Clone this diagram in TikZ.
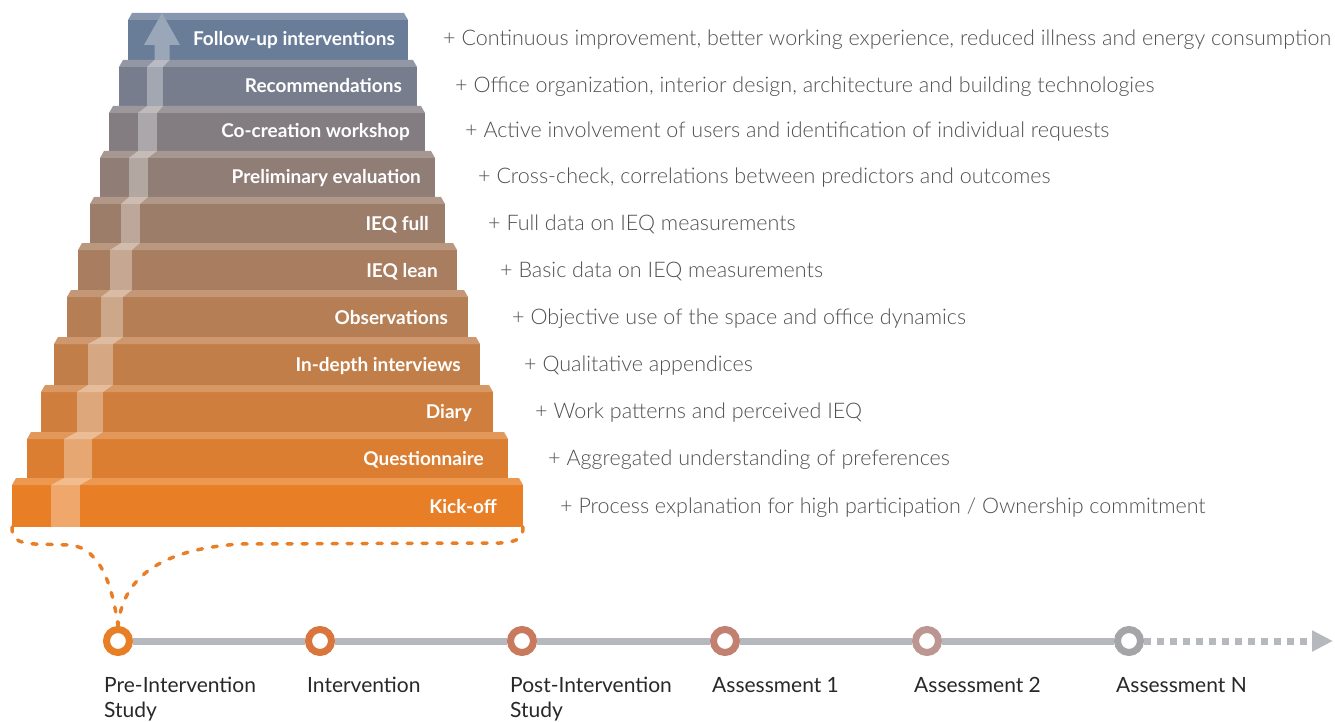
\documentclass[tikz,border=0pt]{standalone}
\usepackage{fontspec}
\setmainfont{Lato}
\IfFontExistsTF{Lato Light}{\newfontfamily\descfont{Lato Light}}{\newfontfamily\descfont{Lato}}
\usetikzlibrary{arrows.meta}
\definecolor{kick}{RGB}{232,126,38}
\definecolor{topc}{RGB}{106,125,152}
\definecolor{descgray}{RGB}{80,80,80}
\definecolor{tlgray}{RGB}{181,184,189}
\definecolor{labdark}{RGB}{40,40,40}
\definecolor{ringA}{RGB}{232,126,38}
\definecolor{ringB}{RGB}{217,118,62}
\definecolor{ringC}{RGB}{201,122,93}
\definecolor{ringD}{RGB}{193,128,112}
\definecolor{ringE}{RGB}{188,150,145}
\definecolor{ringF}{RGB}{165,165,167}
% #1 top, #2 bottom, #3 left, #4 right, #5/#6 stripe, #7/#8 stripe of step above, #9 percent orange
\newcommand\drawstep[9]{%
  \colorlet{cc}{kick!#9!topc}%
  \fill[cc] (#3,#1+7) rectangle (#4,#2);
  \fill[cc!80!white] (#3,#1+7) -- (#3+4,#1) -- (#4-4,#1) -- (#4,#1+7) -- cycle;
  \fill[cc!68!white] (#5,#1+7) rectangle (#6,#2);
  \fill[cc!52!white] (#5,#1+7) -- (#7,#1) -- (#8,#1) -- (#6,#1+7) -- cycle;
}
\begin{document}
\begin{tikzpicture}[x=1pt,y=-1pt,
  steplabel/.style={anchor=base east, inner sep=0pt, text=white, font=\bfseries\fontsize{19}{22}\selectfont},
  desc/.style={anchor=base west, inner sep=0pt, text=descgray, font=\descfont\fontsize{21.5}{24}\selectfont},
  ring/.style={circle, draw=#1, line width=7pt, fill=white, minimum size=23pt, inner sep=0pt},
  tlabel/.style={anchor=north west, inner sep=0pt, align=left, text=labdark, font=\fontsize{21}{25}\selectfont},
  bracket/.style={draw=kick, line width=3.5pt, line cap=round, dash pattern=on 5pt off 10pt},
  timeline/.style={draw=tlgray, line width=7pt}]
\useasboundingbox (0,0) rectangle (1335,722);

% ---- staircase ----
% top step (Follow-up interventions)
\colorlet{cc}{topc}
\fill[cc] (128,20) rectangle (408,60);
\fill[cc!80!white] (128,20) -- (132,13) -- (404,13) -- (408,20) -- cycle;
\fill[topc!68!white] (154.5,60) -- (154.5,45) -- (144,45) -- (162,13) -- (180,45) -- (169.5,45) -- (169.5,60) -- cycle;
\drawstep{60}{106}{119}{417}{147}{163}{154.5}{169.5}{10}
\drawstep{106}{151}{109}{425}{138}{157}{147}{163}{20}
\drawstep{151}{197}{100}{435}{129}{148}{138}{157}{30}
\drawstep{197}{243}{90}{445}{121}{140}{129}{148}{40}
\drawstep{243}{290}{78}{457}{110}{132}{121}{140}{50}
\drawstep{290}{337}{67}{468}{101}{123}{110}{132}{60}
\drawstep{337}{385}{54}{480}{88}{113}{101}{123}{70}
\drawstep{385}{432}{41}{493}{77}{103}{88}{113}{80}
\drawstep{432}{478}{27}{508}{64}{92}{77}{103}{90}
\drawstep{478}{527}{12}{523}{51}{80}{64}{92}{100}

% ---- step labels ----
\node[steplabel] (s0) at (395,39+7) {Follow-up interventions};
\node[steplabel] (s1) at (402,86+7) {Recommendations};
\node[steplabel] (s2) at (410,131+7) {Co-creation workshop};
\node[steplabel] (s3) at (421,177+7) {Preliminary evaluation};
\node[steplabel] (s4) at (429,223+7) {IEQ full};
\node[steplabel] (s5) at (438,270+7) {IEQ lean};
\node[steplabel] (s6) at (448,317+7) {Observations};
\node[steplabel] (s7) at (461,364+7) {In-depth interviews};
\node[steplabel] (s8) at (472,411+7) {Diary};
\node[steplabel] (s9) at (484,458+7) {Questionnaire};
\node[steplabel] (s10) at (497,506+7) {Kick-off};

% ---- descriptions ----
\node[desc] (d0) at (443,39+7) {+ Continuous improvement, better working experience, reduced illness and energy consumption};
\node[desc] (d1) at (455,86+7) {+ Office organization, interior design, architecture and building technologies};
\node[desc] (d2) at (465,131+7) {+ Active involvement of users and identification of individual requests};
\node[desc] (d3) at (478,177+7) {+ Cross-check, correlations between predictors and outcomes};
\node[desc] (d4) at (488,223+7) {+ Full data on IEQ measurements};
\node[desc] (d5) at (500,270+7) {+ Basic data on IEQ measurements};
\node[desc] (d6) at (512,317+7) {+ Objective use of the space and office dynamics};
\node[desc] (d7) at (524,364+7) {+ Qualitative appendices};
\node[desc] (d8) at (535,411+7) {+ Work patterns and perceived IEQ};
\node[desc] (d9) at (548,458+7) {+ Aggregated understanding of preferences};
\node[desc] (d10) at (560,506+7) {+ Process explanation for high participation / Ownership commitment};

% ---- timeline ----
\node[ring=ringA] (t1) at (118,641) {};
\node[ring=ringB] (t2) at (320,641) {};
\node[ring=ringC] (t3) at (522,641) {};
\node[ring=ringD] (t4) at (725,641) {};
\node[ring=ringE] (t5) at (927,641) {};
\node[ring=ringF] (t6) at (1129,641) {};
\coordinate (tend) at (1333,641);
\draw[timeline] (t1) -- (t2) -- (t3) -- (t4) -- (t5) -- (t6);
\draw[timeline, dash pattern=on 7pt off 6pt, -{Triangle[length=21pt,width=20pt]}] (t6) -- (tend);

\node[tlabel] (l1) at (104,677) {Pre-Intervention\\Study};
\node[tlabel] (l2) at (307,677) {Intervention};
\node[tlabel] (l3) at (510,677) {Post-Intervention\\Study};
\node[tlabel] (l4) at (712,677) {Assessment 1};
\node[tlabel] (l5) at (914,677) {Assessment 2};
\node[tlabel] (l6) at (1116,677) {Assessment N};

% ---- dotted bracket ----
\coordinate (kbl) at (12,527);
\coordinate (kbr) at (523,527);
\draw[bracket] (kbl) .. controls (12,538) and (16,543) .. (35,544) -- (70,545) .. controls (102,548) and (113,590) .. (t1.north);
\draw[bracket] (kbr) .. controls (523,538) and (518,542) .. (500,543) -- (240,544) .. controls (150,550) and (122,585) .. (t1.north);
\end{tikzpicture}
\end{document}
